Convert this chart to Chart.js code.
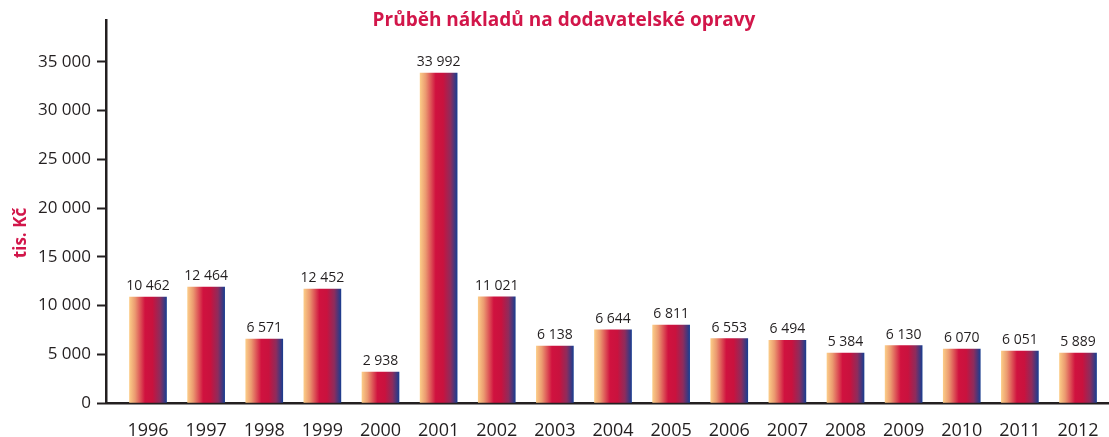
<!DOCTYPE html>
<html>
<head>
<meta charset="utf-8">
<script src="https://cdn.jsdelivr.net/npm/chart.js@4"></script>
<style>
  html, body { margin: 0; padding: 0; background: #fff; }
  #wrap { width: 1109px; height: 437px; }
</style>
</head>
<body>
<div id="wrap"><canvas id="graf"></canvas></div>
<script>
const roky = [1996, 1997, 1998, 1999, 2000, 2001, 2002, 2003, 2004, 2005, 2006, 2007, 2008, 2009, 2010, 2011, 2012];
// hodnoty popisků nad sloupci (tis. Kč)
const hodnoty = [10462, 12464, 6571, 12452, 2938, 33992, 11021, 6138, 6644, 6811, 6553, 6494, 5384, 6130, 6070, 6051, 5889];
// výšky sloupců tak, jak jsou nakreslené v předloze
const vysky = [10870, 11900, 6560, 11690, 3180, 33850, 10900, 5850, 7520, 8000, 6600, 6420, 5130, 5880, 5540, 5330, 5130];
const osaY = [0, 5000, 10000, 15000, 20000, 25000, 30000, 35000];

const tmava = '#231f20';
const cervena = '#d2164a';
const sirka = 37;

const formatuj = v => String(v).replace(/\B(?=(\d{3})+(?!\d))/g, ' ');

function prechod(ctx) {
    const chart = ctx.chart;
    if (ctx.type !== 'data' || !chart.scales.x) return '#c8103c';
    const cx = chart.scales.x.getPixelForValue(roky[ctx.dataIndex]);
    if (!isFinite(cx)) return '#c8103c';
    const g = chart.ctx.createLinearGradient(cx - sirka / 2, 0, cx + sirka / 2, 0);
    g.addColorStop(0, '#fbcb87');
    g.addColorStop(0.15, '#eb9a70');
    g.addColorStop(0.42, '#d0123f');
    g.addColorStop(0.62, '#c9123e');
    g.addColorStop(0.82, '#8e2c5c');
    g.addColorStop(1, '#1b3d8f');
    return g;
}

// popisky nad sloupci, nadpis a popis osy
const popisky = {
    id: 'popisky',
    afterDatasetsDraw(chart) {
        const c = chart.ctx;
        const meta = chart.getDatasetMeta(0);
        c.save();
        c.fillStyle = tmava;
        c.font = '14px "Open Sans"';
        c.textAlign = 'center';
        c.textBaseline = 'bottom';
        meta.data.forEach((bar, i) => {
            c.fillText(formatuj(hodnoty[i]), bar.x, bar.y - 4);
        });

        c.fillStyle = cervena;
        c.font = 'bold 19px "Open Sans"';
        c.textBaseline = 'middle';
        c.fillText('Průběh nákladů na dodavatelské opravy', 564, 21);

        c.translate(21, 233);
        c.rotate(-Math.PI / 2);
        c.font = 'bold 17px "Open Sans"';
        c.fillText('tis. Kč', 0, 0);
        c.restore();
    }
};

const dataNaklady = {
    datasets: [{
        label: 'Náklady',
        data: roky.map((r, i) => ({ x: r, y: vysky[i] })),
        backgroundColor: prechod,
        barThickness: sirka,
        borderWidth: 0
    }]
};

const configNaklady = {
    type: 'bar',
    data: dataNaklady,
    options: {
        responsive: true,
        maintainAspectRatio: false,
        animation: false,
        events: [],
        layout: { padding: { top: 20 } },
        plugins: {
            legend: { display: false },
            tooltip: { enabled: false }
        },
        scales: {
            x: {
                type: 'linear',
                offset: false,
                min: roky[0] - 0.7226,
                max: roky[roky.length - 1] + 0.533,
                afterBuildTicks: axis => { axis.ticks = roky.map(r => ({ value: r })); },
                afterFit: axis => { axis.height = 34; },
                grid: { display: false, offset: false },
                border: { color: tmava, width: 2.5 },
                ticks: {
                    color: tmava,
                    font: { family: 'Open Sans', size: 18 },
                    padding: 9,
                    maxRotation: 0,
                    autoSkip: false,
                    callback: v => String(v)
                }
            },
            y: {
                min: 0,
                max: 39300,
                afterBuildTicks: axis => { axis.ticks = osaY.map(v => ({ value: v })); },
                afterFit: axis => { axis.width = 106; },
                grid: {
                    drawOnChartArea: false,
                    tickLength: 9,
                    tickWidth: 2,
                    tickColor: tmava
                },
                border: { color: tmava, width: 2.5 },
                ticks: {
                    color: tmava,
                    font: { family: 'Open Sans', size: 17 },
                    padding: 6,
                    callback: v => formatuj(v)
                }
            }
        }
    },
    plugins: [popisky]
};

new Chart(document.getElementById('graf'), configNaklady);
</script>
</body>
</html>
